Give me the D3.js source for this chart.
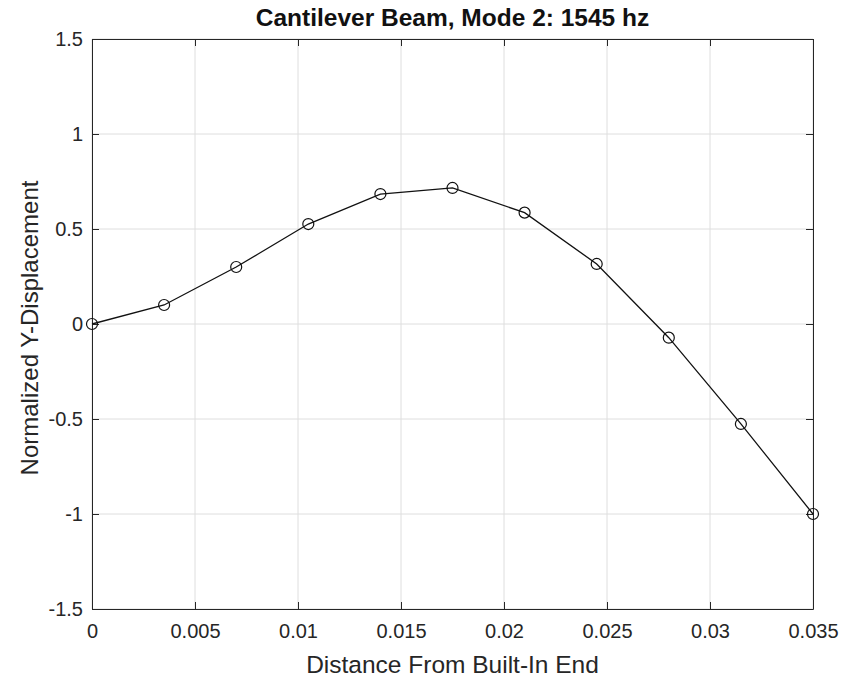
<!DOCTYPE html>
<html>
    <head>
        <title>Cantilever Beam, Mode 2</title>
        <script src="https://d3js.org/d3.v7.min.js"></script>
        <style>
            body { margin: 0; background: #fff; }
            svg { font-family: 'Liberation Sans', Arial, sans-serif; }
        </style>
    </head>
    <body>
        <script>
            const positions = [0, 0.0035, 0.007, 0.0105, 0.014, 0.0175, 0.021, 0.0245, 0.028, 0.0315, 0.035]
            const displacement = [0, 0.10, 0.30, 0.526, 0.684, 0.716, 0.586, 0.316, -0.072, -0.526, -1.0]
            const xTicks = [0, 0.005, 0.01, 0.015, 0.02, 0.025, 0.03, 0.035]
            const yTicks = [-1.5, -1, -0.5, 0, 0.5, 1, 1.5]

            const margin = { top: 39, right: 30, bottom: 71, left: 92 }
            const svg = d3.select('body').append('svg')
                .attr('width', 843).attr('height', 680)
            const width = 843 - margin.left - margin.right
            const height = 680 - margin.top - margin.bottom

            const g = svg.append('g')
                .attr('transform', `translate(${margin.left}, ${margin.top})`)

            const xScale = d3.scaleLinear().domain([0, 0.035]).range([0, width])
            const yScale = d3.scaleLinear().domain([-1.5, 1.5]).range([height, 0])

            // grid
            g.selectAll('.vgrid').data(xTicks).enter().append('line')
                .attr('x1', d => xScale(d)).attr('x2', d => xScale(d))
                .attr('y1', 0).attr('y2', height)
                .attr('stroke', '#dedede').attr('stroke-width', 1)
            g.selectAll('.hgrid').data(yTicks).enter().append('line')
                .attr('x1', 0).attr('x2', width)
                .attr('y1', d => yScale(d)).attr('y2', d => yScale(d))
                .attr('stroke', '#dedede').attr('stroke-width', 1)

            const fmt = d => String(+d.toFixed(4))
            const tickColor = '#262626'

            // axes with inward ticks, box on all four sides
            const xAxis = d3.axisBottom(xScale).tickValues(xTicks).tickFormat(fmt).tickSizeInner(-7).tickSizeOuter(0).tickPadding(15)
            const yAxis = d3.axisLeft(yScale).tickValues(yTicks).tickFormat(fmt).tickSizeInner(-7).tickSizeOuter(0).tickPadding(9)
            const xTop = d3.axisTop(xScale).tickValues(xTicks).tickFormat('').tickSizeInner(-7).tickSizeOuter(0)
            const yRight = d3.axisRight(yScale).tickValues(yTicks).tickFormat('').tickSizeInner(-7).tickSizeOuter(0)

            const styleAxis = sel => {
                sel.selectAll('path').attr('stroke', tickColor)
                sel.selectAll('line').attr('stroke', tickColor)
                sel.selectAll('text').attr('fill', tickColor).style('font-size', '20px')
            }
            g.append('g').attr('transform', `translate(0, ${height})`).call(xAxis).call(styleAxis)
            g.append('g').call(yAxis).call(styleAxis)
            g.append('g').call(xTop).call(styleAxis)
            g.append('g').attr('transform', `translate(${width}, 0)`).call(yRight).call(styleAxis)

            // data line + markers
            const data = positions.map((x, i) => ({ x, y: displacement[i] }))
            const line = d3.line().x(d => xScale(d.x)).y(d => yScale(d.y))
            g.append('path').datum(data)
                .attr('d', line).attr('fill', 'none')
                .attr('stroke', '#111').attr('stroke-width', 1.3)
            g.selectAll('.point').data(data).enter().append('circle')
                .attr('class', 'point')
                .attr('cx', d => xScale(d.x)).attr('cy', d => yScale(d.y))
                .attr('r', 5.5).attr('fill', 'none')
                .attr('stroke', '#111').attr('stroke-width', 1.2)

            // labels
            svg.append('text').attr('x', margin.left + width / 2).attr('y', 26)
                .attr('text-anchor', 'middle').style('font-size', '24.5px').style('font-weight', 'bold')
                .attr('fill', '#111').text('Cantilever Beam, Mode 2: 1545 hz')
            svg.append('text').attr('x', margin.left + width / 2).attr('y', 673)
                .attr('text-anchor', 'middle').style('font-size', '24.5px')
                .attr('fill', tickColor).text('Distance From Built-In End')
            svg.append('text')
                .attr('transform', `translate(38, ${margin.top + height / 2 + 4}) rotate(-90)`)
                .attr('text-anchor', 'middle').style('font-size', '24px')
                .attr('fill', tickColor).text('Normalized Y-Displacement')
        </script>
    </body>
</html>
